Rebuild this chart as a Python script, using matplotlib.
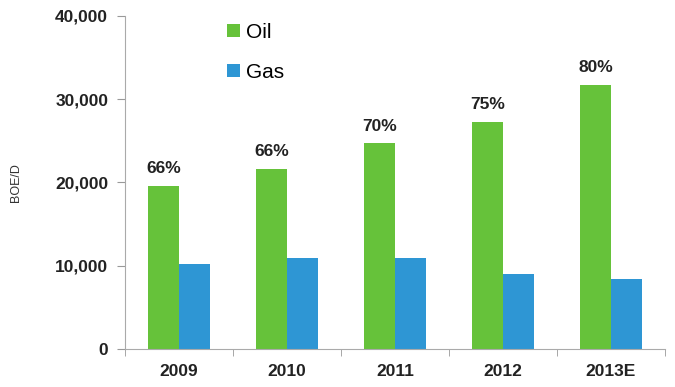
import matplotlib
matplotlib.use('agg')
import matplotlib.pyplot as plt
import numpy as np
from matplotlib.ticker import FuncFormatter, FixedLocator

plt.rcParams['font.family'] = ['Liberation Sans', 'DejaVu Sans']

years = ['2009', '2010', '2011', '2012', '2013E']
oil = [19600, 21600, 24700, 27300, 31700]
gas = [10200, 10900, 10900, 9000, 8400]
oil_share = ['66%', '66%', '70%', '75%', '80%']

green = '#66c23a'
blue = '#2e96d4'

fig = plt.figure(figsize=(6.75, 3.87), dpi=100)
ax = fig.add_axes([0.185, 0.098, 0.80, 0.861])

x = np.arange(len(years))
w = 0.285
ax.bar(x - w / 2, oil, w, color=green, label='Oil')
ax.bar(x + w / 2, gas, w, color=blue, label='Gas')

for xi, v, s in zip(x, oil, oil_share):
    ax.annotate(s, (xi - w / 2, v), xytext=(0, 7), textcoords='offset points',
                ha='center', va='bottom', fontsize=12.5, fontweight='bold', color='#222222')

ax.set_xlim(-0.5, len(years) - 0.5)
ax.set_ylim(0, 40000)
ax.set_yticks([0, 10000, 20000, 30000, 40000])
ax.yaxis.set_major_formatter(FuncFormatter(lambda v, p: '{:,.0f}'.format(v)))
ax.set_xticks(x)
ax.set_xticklabels(years)
ax.xaxis.set_minor_locator(FixedLocator(np.arange(-0.5, len(years), 1.0)))

for lab in ax.get_xticklabels() + ax.get_yticklabels():
    lab.set_fontweight('bold')
    lab.set_fontsize(12.5)
    lab.set_color('#222222')

ax.tick_params(axis='x', which='major', length=0, pad=11)
ax.tick_params(axis='x', which='minor', length=5, color='#999999', direction='out')
ax.tick_params(axis='y', length=6, color='#999999', direction='out', pad=6)

for side in ['top', 'right']:
    ax.spines[side].set_visible(False)
ax.spines['left'].set_color('#aaaaaa')
ax.spines['bottom'].set_color('#aaaaaa')

ax.set_ylabel('BOE/D', fontsize=9, color='#333333', labelpad=24)

ax.legend(loc='upper left', bbox_to_anchor=(0.155, 1.035), frameon=False, fontsize=15,
          handlelength=0.6, handleheight=0.6, handletextpad=0.3, labelspacing=1.0)

fig.savefig('out.png', dpi=100)
